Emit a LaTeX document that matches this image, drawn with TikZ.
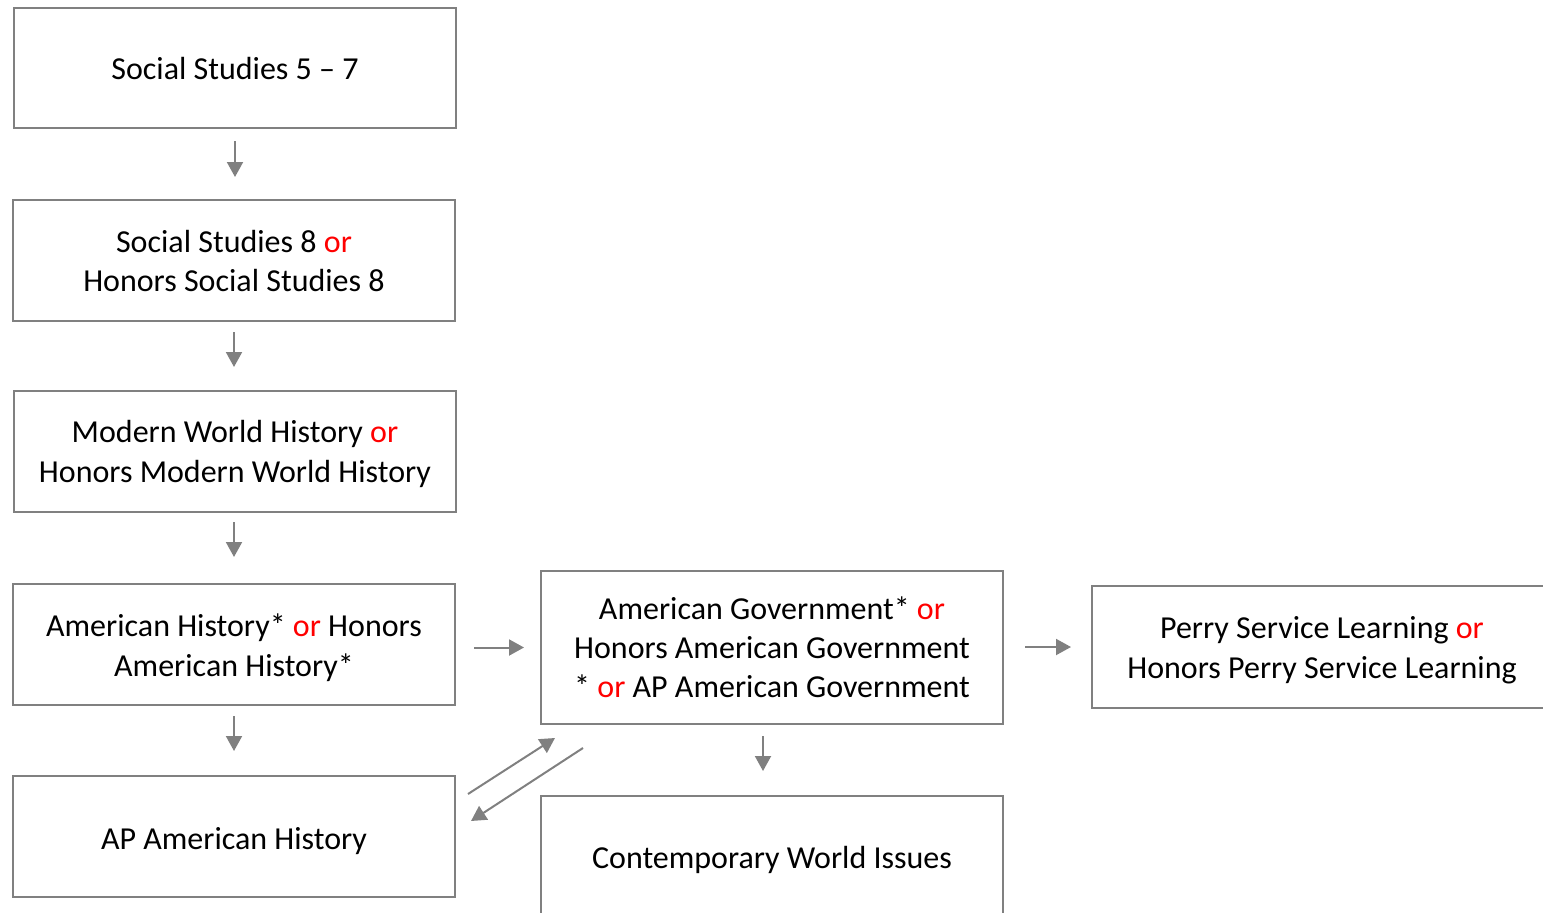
\documentclass[tikz,border=0pt]{standalone}
\usepackage{fontspec}
\setmainfont{Carlito}
\usetikzlibrary{arrows.meta}
\definecolor{linegrey}{RGB}{128,128,128}
\definecolor{orred}{RGB}{255,0,0}
\newcommand{\orw}{\textcolor{orred}{or}}
\newcommand{\dn}[1]{\raisebox{#1}{\vphantom{Hl}}}
\begin{document}
\begin{tikzpicture}[x=1pt,y=-1pt,
  box/.style={draw=linegrey,line width=2pt,align=center,inner sep=0pt,
    font=\fontsize{32}{39}\selectfont},
  wide/.style={font=\fontsize{32}{40}\selectfont},
  arr/.style={draw=linegrey,line width=2pt,-{Triangle[length=15pt,width=16pt]}}]
\useasboundingbox (0,0) rectangle (1543,913);
\clip (0,0) rectangle (1543,913);
\node[box,minimum width=442pt,minimum height=120pt] (n1) at (235,68) {\dn{2pt}Social Studies 5 -- 7};
\node[box,minimum width=442pt,minimum height=121pt] (n2) at (234,260.5) {\dn{2pt}Social Studies 8 \orw\\Honors Social Studies 8};
\node[box,wide,minimum width=442pt,minimum height=121pt] (n3) at (235,451.5) {\dn{5pt}Modern World History \orw\\Honors Modern World History};
\node[box,wide,minimum width=442pt,minimum height=121pt] (n4) at (234,644.5) {\dn{7pt}American History* \orw{} Honors\\American History*};
\node[box,minimum width=442pt,minimum height=121pt] (n5) at (234,836.5) {\dn{8pt}AP American History};
\node[box,minimum width=462pt,minimum height=153pt] (n6) at (772,647.5) {American Government* \orw\\Honors American Government\\* \orw{} AP American Government};
\node[box,wide,minimum width=460pt,minimum height=122pt] (n7) at (1322,647) {\dn{7pt}Perry Service Learning \orw\\Honors Perry Service Learning};
\node[box,minimum width=462pt,minimum height=124pt] (n8) at (772,858) {\dn{4pt}Contemporary World Issues};
\draw[arr,shorten <=12pt,shorten >=22pt] (n1.south) -- (n1.south |- n2.north);
\draw[arr,shorten <=10pt,shorten >=23pt] (n2.south) -- (n2.south |- n3.north);
\draw[arr,shorten <=9pt,shorten >=26pt] (n3.south -| n4.south) -- (n4.north);
\draw[arr,shorten <=10pt,shorten >=24pt] (n4.south) -- (n5.north);
\draw[arr,shorten <=18pt,shorten >=16pt] (n4.east |- n6.west) -- (n6.west);
\draw[arr,shorten <=21pt,shorten >=20pt] (n6.east |- n7.west) -- (n7.west);
\draw[arr,shorten <=11pt,shorten >=24pt] ([xshift=-9pt]n6.south) -- ([xshift=-9pt]n8.north);
\draw[arr] ([shift={(12,19)}]n5.north east) -- ([shift={(15,13)}]n6.south west);
\draw[arr] ([shift={(43,23)}]n6.south west) -- ([shift={(15,46)}]n5.north east);
\end{tikzpicture}
\end{document}
